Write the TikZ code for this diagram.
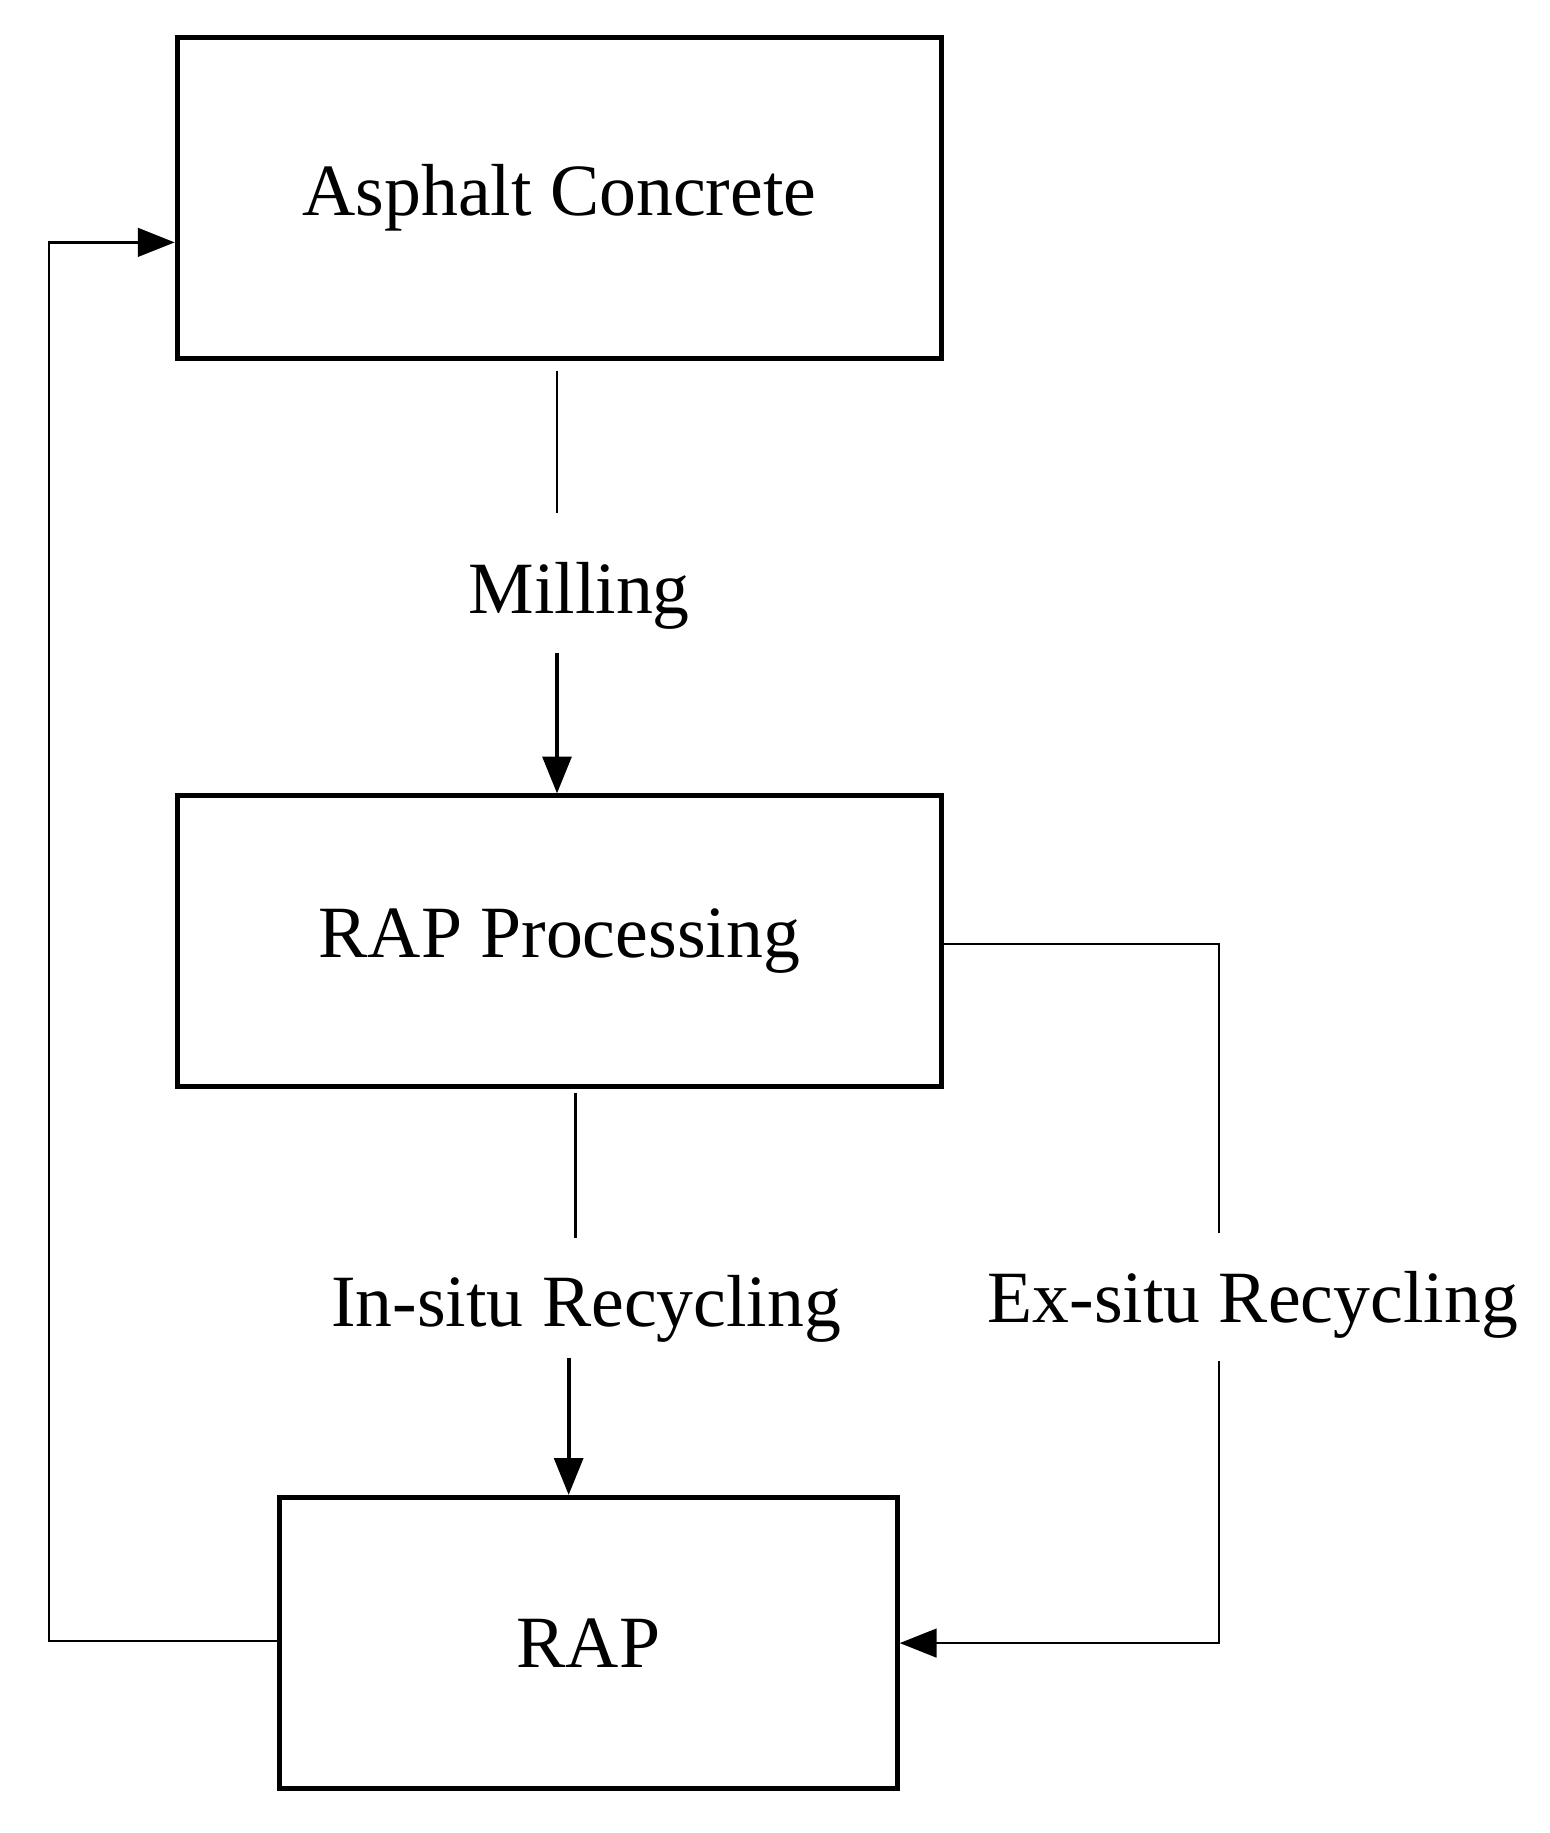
\documentclass[tikz,border=0pt]{standalone}
\usepackage{fontspec}
\setmainfont{Liberation Serif}
\usetikzlibrary{positioning, arrows.meta}
\begin{document}
\begin{tikzpicture}[
        every node/.style={font=\fontsize{18}{22}\selectfont},
        stage/.style={rectangle, draw=black, line width=1.2pt, inner sep=0pt},
        tag/.style={inner sep=2pt},
        link/.style={line width=0.6pt},
        edge/.style={-{Triangle[length=9pt,width=7pt]}, line width=1pt},
        back/.style={-{Triangle[length=9pt,width=7pt]}, line width=0.6pt}
    ]
        \useasboundingbox (0,0) rectangle (13.3,-15.73);
        % Boxes
        \node[stage, minimum width=6.56cm, minimum height=2.76cm] (ac) at (4.80,-1.70) {\raisebox{-1mm}{Asphalt Concrete}};
        \node[stage, minimum width=6.56cm, minimum height=2.49cm] (proc) at (4.80,-8.075) {\raisebox{-1.5mm}{RAP Processing}};
        \node[stage, minimum width=5.30cm, minimum height=2.50cm] (rap) at (5.05,-14.10) {\raisebox{-1mm}{RAP}};
        % Labels
        \node[tag] (mill) at (4.97,-5.11) {Milling};
        \node[tag] (insitu) at (5.03,-11.23) {In-situ Recycling};
        \node[tag] (exsitu) at (10.75,-11.20) {Ex-situ Recycling};
        % Helper points
        \coordinate (m1) at (4.78,-3.18);
        \coordinate (m2) at (4.78,-4.40);
        \coordinate (m3) at (4.78,-5.60);
        \coordinate (i1) at (4.94,-9.38);
        \coordinate (i2) at (4.94,-10.62);
        \coordinate (i3) at (4.88,-11.65);
        \coordinate (e1) at (10.46,-8.10);
        \coordinate (e2) at (10.46,-10.58);
        \coordinate (e3) at (10.46,-11.68);
        \coordinate (e4) at (10.46,-14.10);
        \coordinate (l1) at (0.42,-14.08);
        \coordinate (l2) at (0.42,-2.08);
        % Connectors
        \draw[link] (m1) -- (m2);
        \draw[edge] (m3) -- (m3 |- proc.north);
        \draw[link] (i1) -- (i2);
        \draw[edge] (i3) -- (i3 |- rap.north);
        \draw[link] (proc.east |- e1) -- (e1) -- (e2);
        \draw[back] (e3) -- (e4) -- (rap.east |- e4);
        \draw[back] (rap.west |- l1) -- (l1) -- (l2) -- (ac.west |- l2);
    \end{tikzpicture}
\end{document}
